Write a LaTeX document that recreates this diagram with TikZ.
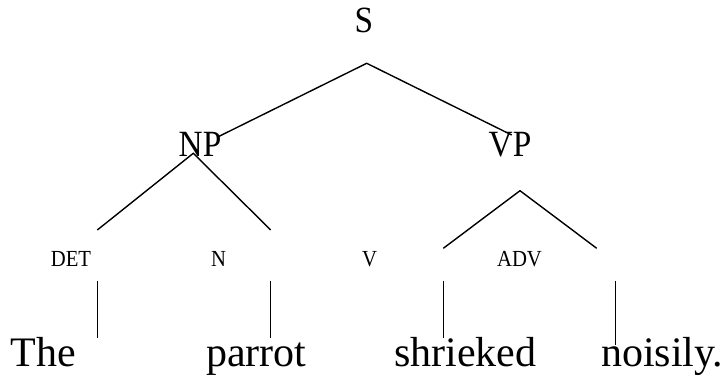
\documentclass[tikz,border=0pt]{standalone}
\usepackage{fontspec}
\setmainfont{Liberation Serif}
\newfontfamily\narrowserif[FakeStretch=0.9]{Liberation Serif}
\begin{document}
\begin{tikzpicture}[x=1pt,y=-1pt,
  branch/.style={line width=1.4pt},
  phrase/.style={inner sep=0pt,anchor=base,font=\narrowserif\fontsize{37}{40}\selectfont},
  cat/.style={inner sep=0pt,anchor=base,font=\narrowserif\fontsize{23}{26}\selectfont},
  word/.style={inner sep=0pt,anchor=base west,font=\fontsize{42}{46}\selectfont}]
\useasboundingbox (0,0) rectangle (728,379);
% labels
\node[phrase] (S)  at (364,32.5) {S};
\node[phrase] (NP) at (200,157) {NP};
\node[phrase] (VP) at (510,157) {VP};
\node[cat] (DET) at (71,267) {DET};
\node[cat] (N)   at (218.7,267) {N};
\node[cat] (V)   at (369.5,267) {V};
\node[cat] (ADV) at (519.5,267) {ADV};
\node[word] (w1) at (10.5,366.7) {The};
\node[word] (w2) at (206,366.7) {parrot};
\node[word] (w3) at (394,366.7) {shrieked};
\node[word] (w4) at (601,366.7) {noisily.};
% branch points
\coordinate (sApex) at (366.7,63.3);
\coordinate (sL) at (218.3,136.7);
\coordinate (sR) at (511.7,135);
\coordinate (npApex) at (193.3,153.3);
\coordinate (npL) at (97.3,230);
\coordinate (npR) at (270.7,230);
\coordinate (vpApex) at (520,190.7);
\coordinate (vpL) at (443.3,248.3);
\coordinate (vpR) at (596.7,248.3);
\coordinate (d1a) at (97.7,281);  \coordinate (d1b) at (97.7,338);
\coordinate (d2a) at (270.3,281); \coordinate (d2b) at (270.3,338);
\coordinate (d3a) at (443.3,281); \coordinate (d3b) at (443.3,338);
\coordinate (d4a) at (615.7,281); \coordinate (d4b) at (615.7,345);
% branches
\draw[branch] (sL) -- (sApex) -- (sR);
\draw[branch] (npL) -- (npApex) -- (npR);
\draw[branch] (vpL) -- (vpApex) -- (vpR);
\draw[branch] (d1a) -- (d1b);
\draw[branch] (d2a) -- (d2b);
\draw[branch] (d3a) -- (d3b);
\draw[branch] (d4a) -- (d4b);
\end{tikzpicture}
\end{document}
